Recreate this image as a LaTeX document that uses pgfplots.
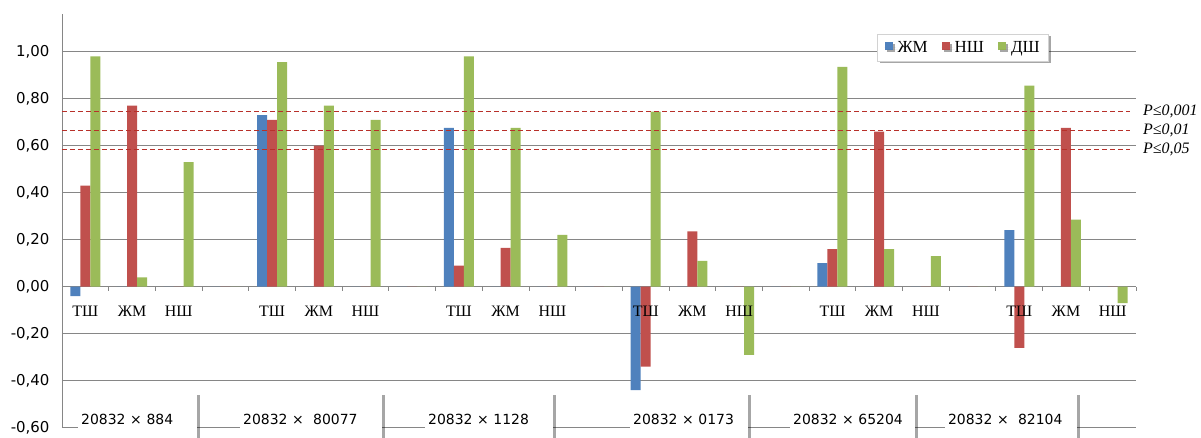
\documentclass[border=0pt]{standalone}
\usepackage{pgfplots}
\usepackage{pgfplotstable}
\pgfplotsset{compat=1.18}
\usepackage{fontspec}
\setmainfont{Liberation Serif}
\newfontfamily\dejavu{DejaVu Sans}
\usetikzlibrary{shadows}
\definecolor{cb}{HTML}{4F81BD}
\definecolor{cr}{HTML}{C0504D}
\definecolor{cg}{HTML}{9BBB59}
\definecolor{gridc}{HTML}{868686}
\definecolor{dashc}{HTML}{B8302A}

\pgfplotstableread{
x zm nsh dsh
0 -0.04 0.43 0.98
1 0 0.77 0.04
2 0 0 0.53
3 0 0 0
4 0.73 0.71 0.955
5 0 0.60 0.77
6 0 0 0.71
7 0 0 0
8 0.675 0.09 0.98
9 0 0.165 0.675
10 0 0 0.22
11 0 0 0
12 -0.44 -0.34 0.745
13 0 0.235 0.11
14 0 0 -0.29
15 0 0 0
16 0.10 0.16 0.935
17 0 0.66 0.16
18 0 0 0.13
19 0 0 0
20 0.24 -0.26 0.855
21 0 0.675 0.285
22 0 0 -0.07
}\data

\pgfplotstableread{
x y
-0.5 0.745
22.37 0.745
}\pone
\pgfplotstableread{
x y
-0.5 0.665
22.37 0.665
}\ptwo
\pgfplotstableread{
x y
-0.5 0.583
22.37 0.583
}\pthree

\pgfplotsset{common/.style={
  at={(0,0)}, anchor=south west,
  scale only axis, width=1074bp, height=413.7bp,
  xmin=-0.5, xmax=22.5, ymin=-0.6, ymax=1.16,
}}

\begin{document}
\begin{tikzpicture}
\useasboundingbox (-62bp,-10.3bp) rectangle (1139bp,427.7bp);
\begin{axis}[
  common,
  clip=false,
  axis x line=middle, axis y line=left,
  axis line style={-, gridc, line width=0.9bp},
  xtick={0,...,22}, xticklabels={},
  minor xtick={-0.5,0.5,...,22.5},
  major tick length=0pt, minor tick length=4bp, tick align=outside,
  tick style={gridc, line width=0.9bp},
  ytick={-0.6,-0.4,-0.2,0,0.2,0.4,0.6,0.8,1.0},
  yticklabel style={font=\dejavu\fontsize{15}{15}\selectfont, xshift=-9bp, /pgf/number format/.cd, fixed, fixed zerofill, precision=2, use comma, assume math mode=true},
  ymajorgrids, grid style={gridc, line width=0.9bp},
  legend style={at={(0.839,0.919)}, anchor=center, draw=gray!35, fill=white,
    drop shadow={shadow xshift=2bp, shadow yshift=-2bp, opacity=0.35, fill=black},
    font=\fontsize{17}{17}\selectfont, inner xsep=7bp, inner ysep=5bp},
  legend columns=3,
  /tikz/every even column/.append style={column sep=12bp},
]
\addplot[ybar, bar width=10bp, bar shift=-10bp, fill=cb, draw=none,
  legend image code/.code={\fill[cb] (0bp,-2bp) rectangle (8bp,6bp); \path (0bp,0bp) -- (11bp,0bp);}] table[x=x,y=zm] {\data};
\addplot[ybar, bar width=10bp, bar shift=0bp, fill=cr, draw=none,
  legend image code/.code={\fill[cr] (0bp,-2bp) rectangle (8bp,6bp); \path (0bp,0bp) -- (11bp,0bp);}] table[x=x,y=nsh] {\data};
\addplot[ybar, bar width=10bp, bar shift=10bp, fill=cg, draw=none,
  legend image code/.code={\fill[cg] (0bp,-2bp) rectangle (8bp,6bp); \path (0bp,0bp) -- (11bp,0bp);}] table[x=x,y=dsh] {\data};
\legend{ЖМ,НШ,ДШ}
\addplot[sharp plot, no marks, dashc, dash pattern=on 5bp off 3bp, line width=1.3bp, forget plot] table {\pone};
\addplot[sharp plot, no marks, dashc, dash pattern=on 5bp off 3bp, line width=1.3bp, forget plot] table {\ptwo};
\addplot[sharp plot, no marks, dashc, dash pattern=on 5bp off 3bp, line width=1.3bp, forget plot] table {\pthree};
\node[anchor=west, inner sep=0pt, xshift=7bp, font=\itshape\fontsize{16}{16}\selectfont] at (axis cs:22.5,0.745) {P≤0,001};
\node[anchor=west, inner sep=0pt, xshift=7bp, font=\itshape\fontsize{16}{16}\selectfont] at (axis cs:22.5,0.665) {P≤0,01};
\node[anchor=west, inner sep=0pt, xshift=7bp, font=\itshape\fontsize{16}{16}\selectfont] at (axis cs:22.5,0.583) {P≤0,05};
\tikzset{glab/.style={anchor=base west, fill=white, inner sep=3bp, text height=27bp, text depth=20bp,
  font=\dejavu\fontsize{14}{14}\selectfont,
  drop shadow={shadow xshift=2.5bp, shadow yshift=0bp, opacity=0.35, fill=black}}}
\node[glab, text width=113bp] at (axis cs:-0.157,-0.5885) {20832 × 884};
\node[glab, text width=136bp] at (axis cs:3.312,-0.5885) {20832 ×\ \ 80077};
\node[glab, text width=122bp] at (axis cs:7.273,-0.5885) {20832 × 1128};
\node[glab, text width=112bp] at (axis cs:11.663,-0.5885) {20832 ×\ 0173};
\node[glab, text width=119bp] at (axis cs:15.089,-0.5885) {20832 × 65204};
\node[glab, text width=126bp] at (axis cs:18.408,-0.5885) {20832 ×\ \ 82104};
\end{axis}
\begin{axis}[
  common,
  axis x line=middle, axis y line=none,
  axis line style={draw=none},
  xtick={0,...,22},
  xticklabels={ТШ,ЖМ,НШ,,ТШ,ЖМ,НШ,,ТШ,ЖМ,НШ,,ТШ,ЖМ,НШ,,ТШ,ЖМ,НШ,,ТШ,ЖМ,НШ},
  major tick length=0pt, tick style={draw=none},
  xticklabel style={font=\fontsize{16}{16}\selectfont, anchor=base, yshift=-30bp},
]
\end{axis}
\end{tikzpicture}
\end{document}
